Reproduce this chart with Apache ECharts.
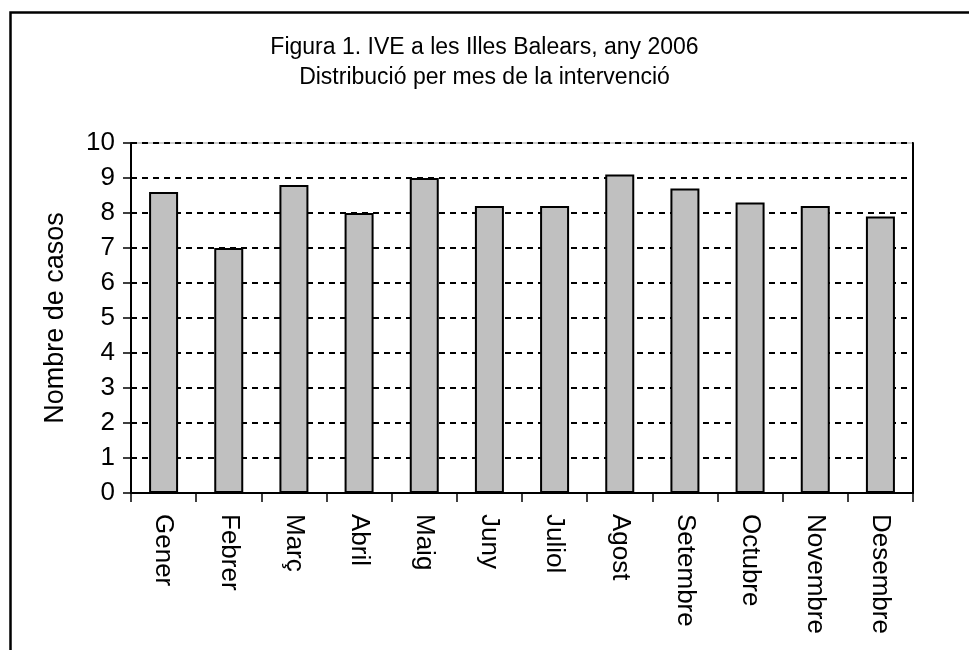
<!DOCTYPE html>
<html>
<head>
<meta charset="utf-8">
<script src="https://cdn.jsdelivr.net/npm/echarts@6/dist/echarts.min.js"></script>
<style>
  html, body { margin: 0; padding: 0; background: #fff; }
  #myChart { width: 969px; height: 650px; }
</style>
</head>
<body>
<div id="myChart"></div>
<script>
// Data
const months = ["Gener", "Febrer", "Març", "Abril", "Maig", "Juny",
  "Juliol", "Agost", "Setembre", "Octubre", "Novembre", "Desembre"];
const cases = [8.6, 7.0, 8.8, 8.0, 9.0, 8.2, 8.2, 9.1, 8.7, 8.3, 8.2, 7.9];
const yTicks = [0, 1, 2, 3, 4, 5, 6, 7, 8, 9, 10];

const sans = '"Liberation Sans", Arial, sans-serif';

let myChart = echarts.init(document.getElementById("myChart"));

let option = {
  backgroundColor: "#fff",
  animation: false,
  title: {
    text: "Figura 1. IVE a les Illes Balears, any 2006\nDistribució per mes de la intervenció",
    left: "center",
    top: 28,
    textStyle: {
      fontFamily: sans,
      fontSize: 23,
      fontWeight: "normal",
      color: "#000",
      lineHeight: 30
    }
  },
  // outer frame of the figure
  graphic: [{
    type: "rect",
    left: 8,
    top: 10,
    shape: { width: 1000, height: 700 },
    style: { fill: "none", stroke: "#000", lineWidth: 2.5 },
    silent: true
  }],
  grid: {
    left: 131,
    right: 56,
    top: 143,
    bottom: 157,
    show: true,
    borderColor: "#999",
    borderWidth: 1
  },
  xAxis: {
    type: "category",
    data: months,
    boundaryGap: true,
    axisLine: { lineStyle: { color: "#000", width: 2 } },
    axisTick: { show: true, length: 9, lineStyle: { color: "#000", width: 1.5 } },
    axisLabel: {
      rotate: -90,
      margin: 21,
      color: "#000",
      fontFamily: sans,
      fontSize: 26
    }
  },
  yAxis: [{
    type: "value",
    min: yTicks[0],
    max: yTicks[yTicks.length - 1],
    interval: 1,
    name: "Nombre de casos",
    nameLocation: "middle",
    nameGap: 62,
    nameTextStyle: { fontFamily: sans, fontSize: 27, color: "#000" },
    axisLine: { show: true, lineStyle: { color: "#000", width: 2 } },
    axisTick: { show: true, length: 8, lineStyle: { color: "#000", width: 1.5 } },
    axisLabel: {
      margin: 16,
      color: "#000",
      fontFamily: sans,
      fontSize: 26
    },
    splitLine: {
      show: true,
      lineStyle: { color: "#000", width: 2, type: [6, 5] }
    }
  }, {
    // right edge of the plot area
    type: "value",
    position: "right",
    min: yTicks[0],
    max: yTicks[yTicks.length - 1],
    interval: 1,
    axisLine: { show: true, lineStyle: { color: "#000", width: 2 } },
    axisTick: { show: false },
    axisLabel: { show: false },
    splitLine: { show: false }
  }],
  series: [{
    name: "casos",
    type: "bar",
    data: cases,
    barWidth: 29,
    itemStyle: {
      color: "#c0c0c0",
      borderColor: "#000",
      borderWidth: 2
    }
  }]
};

myChart.setOption(option);
</script>
</body>
</html>
